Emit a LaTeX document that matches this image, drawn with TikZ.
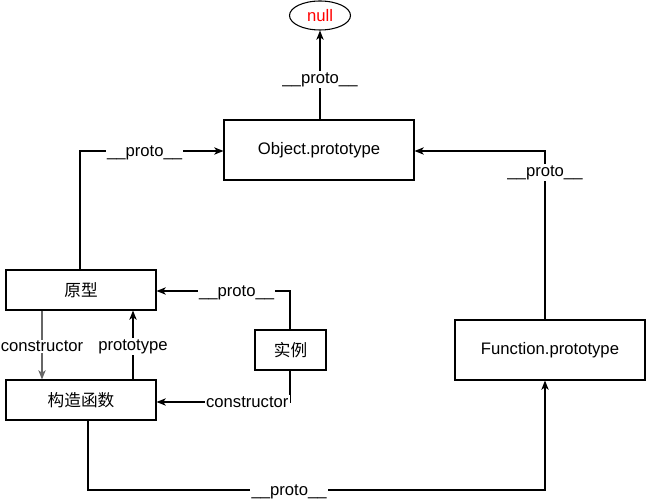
\documentclass[tikz,border=0pt]{standalone}
\usepackage{fontspec}
\setmainfont{Liberation Sans}
\newfontfamily\cjk{Noto Sans CJK SC}
\usetikzlibrary{arrows.meta,shapes.geometric}
\begin{document}
\begin{tikzpicture}[x=0.75pt,y=-0.75pt,
  box/.style={draw,line width=0.8pt,font=\fontsize{12.5pt}{14pt}\selectfont,inner sep=0pt},
  lbl/.style={fill=white,inner sep=1pt,font=\fontsize{12.5pt}{14pt}\selectfont},
  conn/.style={line width=0.8pt,-{Stealth[length=7pt,width=5.5pt,inset=2pt]}},
  plain/.style={line width=0.8pt}]
\useasboundingbox (0,0) rectangle (646,502);
% nodes
\node[ellipse,draw,line width=0.8pt,minimum width=61*0.75pt,minimum height=29*0.75pt,inner sep=0pt,text=red,font=\fontsize{12.5pt}{14pt}\selectfont] (null) at (320,15.5) {null};
\node[box,minimum width=190*0.75pt,minimum height=60*0.75pt] (obj) at (319,150) {Object.prototype};
\node[box,minimum width=150*0.75pt,minimum height=40*0.75pt] (yx) at (81,290) {\cjk 原型};
\node[box,minimum width=150*0.75pt,minimum height=40*0.75pt] (gz) at (81,400) {\cjk 构造函数};
\node[box,minimum width=71*0.75pt,minimum height=40*0.75pt] (sl) at (290.5,350) {\cjk 实例};
\node[box,minimum width=190*0.75pt,minimum height=60*0.75pt] (fn) at (550,350) {Function.prototype};
% corner coordinates
\coordinate (c1) at (80,151);
\coordinate (c2) at (545,151);
\coordinate (c3) at (290,291);
\coordinate (c4) at (290,402);
\coordinate (c5) at (88,490);
\coordinate (c6) at (545,490);
% connectors
\draw[conn] (obj.north -| null.south) -- node[lbl,pos=0.45]{\_\_proto\_\_} (null.south);
\draw[conn] (yx.north -| c1) -- (c1) -- node[lbl,pos=0.45,yshift=-1.5pt]{\_\_proto\_\_} (c1 -| obj.west);
\draw[conn] (fn.north -| c2) -- node[lbl,pos=0.87]{\_\_proto\_\_} (c2) -- (c2 -| obj.east);
\draw[conn] (sl.north -| c3) -- (c3) -- node[lbl,pos=0.4,yshift=-1.5pt]{\_\_proto\_\_} (c3 -| yx.east);
\draw[conn] (sl.south -| c4) -- (c4) -- node[lbl,pos=0.32]{constructor} (c4 -| gz.east);
\draw[conn,draw=gray!80!black] (yx.south -| 42,0) -- node[lbl,pos=0.52]{constructor} (gz.north -| 42,0);
\draw[conn] (gz.north -| 133,0) -- node[lbl,pos=0.48]{prototype} (yx.south -| 133,0);
\draw[conn] (gz.south -| c5) -- (c5) -- node[lbl,pos=0.44,yshift=-1.5pt]{\_\_proto\_\_} (c6) -- (fn.south -| c6);
\end{tikzpicture}
\end{document}
